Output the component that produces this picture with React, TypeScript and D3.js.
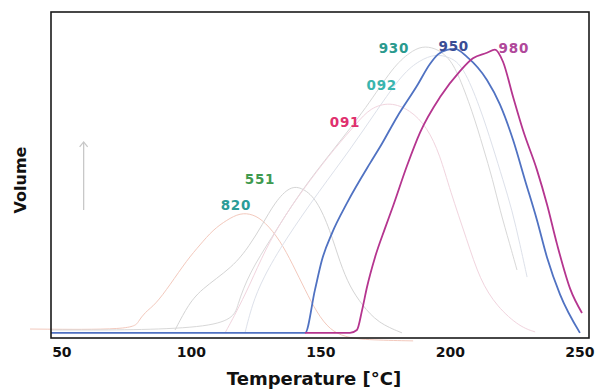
import React from "react";
import * as d3 from "d3";

type P = [number, number];

// temperature [°C], relative volume
const s950: P[] = [
  [45.8, 0], [143.9, 0], [147.7, 13.4], [150.4, 22.7], [154.3, 31.1], [160.1, 40.5],
  [169.0, 52.9], [172.8, 57.9], [179.4, 67.3], [187.1, 77.0], [192.1, 83.8], [195.2, 86.8],
  [198.7, 88.2], [201.8, 88.5], [206.4, 86.0], [214.1, 78.8], [219.1, 71.2], [224.2, 60.1],
  [228.8, 47.6], [233.4, 35.2], [237.3, 23.5], [242.3, 12.0], [250.0, 0],
];
const s980: P[] = [
  [143.9, 0], [161.2, 0], [163.9, 0.9], [165.9, 7.1], [167.8, 14.3], [170.9, 23.6], [174.7, 32.5],
  [177.8, 39.4], [183.2, 52.0], [188.3, 62.5], [196.0, 73.5], [203.7, 81.6], [208.7, 85.6],
  [214.1, 87.3], [217.2, 88.3], [220.3, 84.5], [224.2, 73.5], [228.0, 63.2], [233.4, 50.8],
  [237.3, 40.0], [241.2, 27.5], [246.2, 13.8], [250.8, 6.2],
];
const s930: P[] = [
  [45.8, 0.9], [115.7, 0.9], [117.6, 8.7], [122.6, 19.0], [130.4, 28.9], [141.9, 43.9], [154.7, 57.0],
  [167.8, 70.4], [177.8, 82.9], [184.4, 87.5], [189.0, 89.4], [194.1, 88.8], [198.7, 86.3],
  [202.5, 81.9], [208.7, 68.5], [212.6, 57.9], [216.4, 47.6], [219.1, 38.3], [223.0, 27.4], [225.7, 19.6],
];
const s092: P[] = [
  [120.7, 0], [123.4, 8.7], [127.6, 17.1], [136.1, 28.9], [149.6, 44.5], [161.2, 57.0], [171.7, 69.5],
  [181.7, 81.0], [188.3, 85.0], [194.1, 86.9], [199.8, 86.0], [204.9, 83.2], [211.4, 70.4],
  [216.4, 57.9], [220.3, 47.6], [223.8, 38.3], [226.9, 27.4], [229.6, 17.4],
];
const s091: P[] = [
  [113.0, 0], [116.8, 5.6], [122.6, 15.0], [128.4, 25.8], [136.1, 36.7], [145.8, 47.6], [155.4, 57.6],
  [163.9, 65.4], [169.0, 70.1], [176.7, 72.0], [184.4, 69.5], [191.0, 64.2], [196.0, 55.4],
  [199.8, 44.5], [206.4, 28.9], [211.4, 16.5], [218.0, 8.1], [226.9, 1.8], [232.7, 0.3],
];
const s551: P[] = [
  [93.7, 0.9], [98.3, 8.1], [103.3, 13.4], [116.1, 20.5], [122.6, 27.4], [127.3, 33.6], [132.3, 40.8],
  [138.1, 45.8], [143.1, 45.2], [148.5, 41.4], [153.5, 32.1], [157.4, 21.8], [161.2, 14.3],
  [165.9, 8.7], [172.0, 3.1], [181.3, 0],
];
const s820: P[] = [
  [37.7, 1.2], [77.5, 0.9], [79.4, 3.4], [82.1, 6.5], [86.0, 8.7], [91.7, 14.9], [98.3, 22.7],
  [103.3, 27.4], [108.3, 32.1], [113.7, 35.2], [118.8, 37.4], [123.8, 37.0], [128.4, 34.6],
  [134.2, 28.9], [139.2, 21.2], [143.9, 13.4], [148.5, 6.2], [153.5, 0.9], [159.3, -1.3],
  [167.0, -2.2], [185.6, -2.5],
];

const xTicks = [50, 100, 150, 200, 250];

const labels = [
  { text: "930", t: 178.2, v: 87.2, color: "#2a9a8e" },
  { text: "950", t: 201.3, v: 87.8, color: "#3a4d95" },
  { text: "980", t: 224.5, v: 87.2, color: "#b0489a" },
  { text: "092", t: 173.5, v: 75.7, color: "#3ab5ae" },
  { text: "091", t: 159.3, v: 64.2, color: "#e0306e" },
  { text: "551", t: 126.5, v: 46.4, color: "#3f9a4f" },
  { text: "820", t: 117.2, v: 38.3, color: "#2b9c98" },
];

const faint = [
  { data: s820, color: "#f3c9bd" },
  { data: s551, color: "#d4d4d4" },
  { data: s930, color: "#d8d8d8" },
  { data: s092, color: "#dde1ea" },
  { data: s091, color: "#f1d4de" },
];

export default function App() {
  const x = d3.scaleLinear().domain([45.8, 253.5]).range([51, 589]);
  const y = d3.scaleLinear().domain([-1.6, 100]).range([338, 12]);
  const smooth = d3
    .line<P>()
    .x((d) => x(d[0]))
    .y((d) => y(d[1]))
    .curve(d3.curveBasis);
  const main = d3
    .line<P>()
    .x((d) => x(d[0]))
    .y((d) => y(d[1]))
    .curve(d3.curveMonotoneX);
  const font = "'DejaVu Sans', Verdana, sans-serif";
  const arrowX = x(58.4);
  return (
    <svg width={595} height={390} style={{ position: "absolute", left: 0, top: 0, background: "#fff" }}>
      <defs>
        <marker id="ah" markerWidth={10} markerHeight={10} refX={5} refY={2} orient="0" markerUnits="userSpaceOnUse">
          <path d="M1,7 L5,2 L9,7" fill="none" stroke="#c8c8c8" strokeWidth={1.3} />
        </marker>
      </defs>
      {faint.map((f, i) => (
        <path key={i} d={smooth(f.data) || ""} fill="none" stroke={f.color} strokeWidth={1} />
      ))}
      <path d={main(s950) || ""} fill="none" stroke="#5072c2" strokeWidth={1.8} />
      <path d={main(s980) || ""} fill="none" stroke="#b5358f" strokeWidth={1.8} />
      <rect x={x(45.8)} y={y(100)} width={x(253.5) - x(45.8)} height={y(-1.6) - y(100)} fill="none" stroke="#1a1a1a" strokeWidth={1.6} />
      <line x1={arrowX} x2={arrowX} y1={y(38.3)} y2={y(59.5)} stroke="#c8c8c8" strokeWidth={1.3} markerEnd="url(#ah)" />
      {xTicks.map((t) => (
        <text key={t} x={x(t)} y={357} textAnchor="middle" fontFamily={font} fontWeight="bold" fontSize={14} fill="#111">
          {t}
        </text>
      ))}
      {labels.map((l) => (
        <text key={l.text} x={x(l.t)} y={y(l.v)} textAnchor="middle" fontFamily={font} fontWeight="bold" fontSize={13.5} fill={l.color} letterSpacing={0.8}>
          {l.text}
        </text>
      ))}
      <text x={314} y={385} textAnchor="middle" fontFamily={font} fontWeight="bold" fontSize={18} fill="#111">
        Temperature [°C]
      </text>
      <text transform="translate(26,180) rotate(-90)" textAnchor="middle" fontFamily={font} fontWeight="bold" fontSize={16} fill="#111">
        Volume
      </text>
    </svg>
  );
}
